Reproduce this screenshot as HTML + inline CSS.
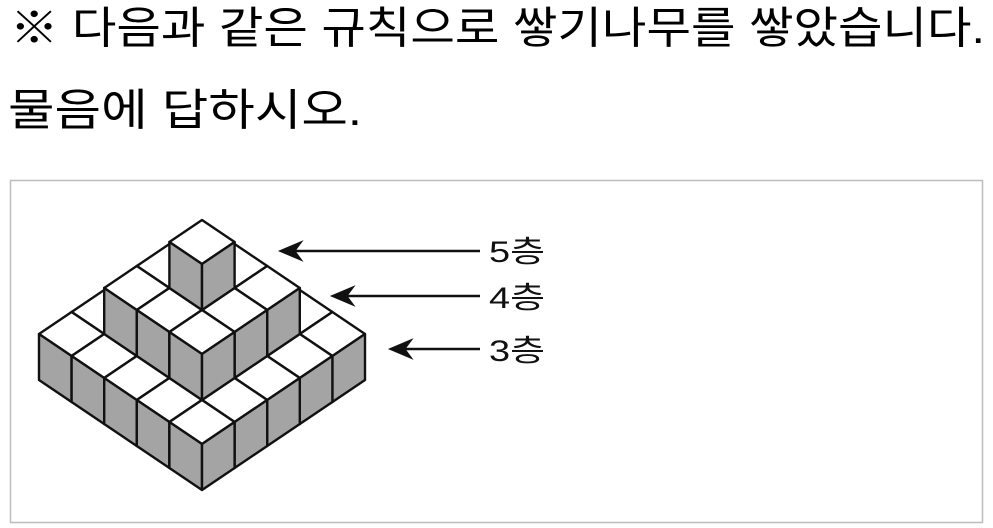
<!DOCTYPE html>
<html><head><meta charset="utf-8"><style>
html,body{margin:0;padding:0;background:#fff;}
svg{display:block;}
</style></head><body>
<svg width="993" height="528" viewBox="0 0 993 528" xmlns="http://www.w3.org/2000/svg">
<rect width="993" height="528" fill="#fff"/>
<text x="10" y="43" font-size="44" textLength="975" lengthAdjust="spacingAndGlyphs" font-family="'Liberation Sans','Noto Sans CJK KR',sans-serif" fill="#000">※ 다음과 같은 규칙으로 쌓기나무를 쌓았습니다.</text>
<text x="8" y="125" font-size="44" textLength="354" lengthAdjust="spacingAndGlyphs" font-family="'Liberation Sans','Noto Sans CJK KR',sans-serif" fill="#000">물음에 답하시오.</text>
<rect x="10.5" y="180.5" width="972" height="342" fill="#fff" stroke="#bdbdbd" stroke-width="1.5"/>
<g id="cubes" stroke="#111" stroke-width="2.4" stroke-linejoin="round"></g>
<g stroke="#111" stroke-width="2.4" fill="#111">
<line x1="290" y1="251" x2="480" y2="251"/><polygon points="281,251 300,243 294,251 300,259"/>
<line x1="342" y1="296" x2="480" y2="296"/><polygon points="333,296 352,288 346,296 352,304"/>
<line x1="400" y1="349" x2="480" y2="349"/><polygon points="391,349 410,341 404,349 410,357"/>
</g>
<g font-family="'Liberation Sans','Noto Sans CJK KR',sans-serif" font-size="30" fill="#111">
<text x="489" y="262" textLength="56" lengthAdjust="spacingAndGlyphs">5층</text>
<text x="489" y="308" textLength="56" lengthAdjust="spacingAndGlyphs">4층</text>
<text x="489" y="361" textLength="56" lengthAdjust="spacingAndGlyphs">3층</text>
</g>
</svg>
<script>
(function(){
var g=document.getElementById('cubes');
var X0=202,Y0=490,DX=32.6,DY=22,H=46;
function P(i,j,k){return [X0+(i-j)*DX, Y0-(i+j)*DY-k*H];}
function poly(pts,fill){var s=pts.map(function(p){return p[0].toFixed(1)+','+p[1].toFixed(1)}).join(' ');
var e=document.createElementNS('http://www.w3.org/2000/svg','polygon');e.setAttribute('points',s);e.setAttribute('fill',fill);g.appendChild(e);}
var cubes=[];
for(var i=0;i<5;i++)for(var j=0;j<5;j++)cubes.push([i,j,0]);
for(var i=1;i<4;i++)for(var j=1;j<4;j++)cubes.push([i,j,1]);
cubes.push([2,2,2]);
cubes.sort(function(a,b){if(a[2]!=b[2])return a[2]-b[2];return (b[0]+b[1])-(a[0]+a[1]);});
cubes.forEach(function(c){var i=c[0],j=c[1],k=c[2];
poly([P(i,j,k+1),P(i+1,j,k+1),P(i+1,j+1,k+1),P(i,j+1,k+1)],'#fff');
poly([P(i,j,k),P(i,j+1,k),P(i,j+1,k+1),P(i,j,k+1)],'#a4a4a4');
poly([P(i,j,k),P(i+1,j,k),P(i+1,j,k+1),P(i,j,k+1)],'#a4a4a4');
});
})();
</script>
</body></html>
